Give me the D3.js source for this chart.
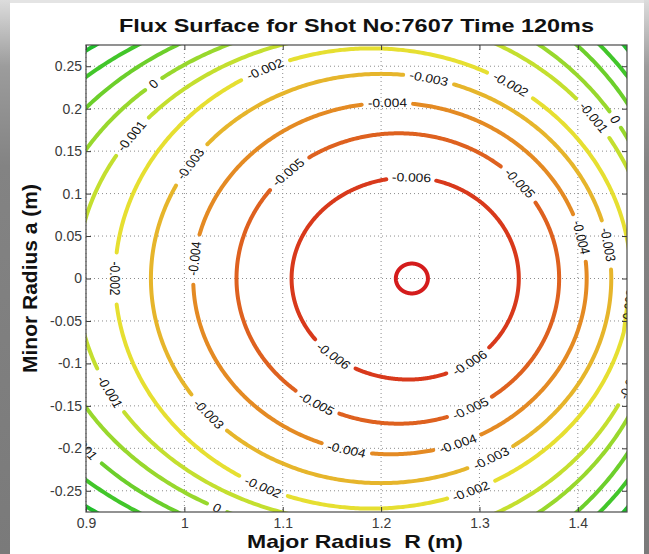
<!DOCTYPE html>
<html>
<head>
<meta charset="utf-8">
<script src="https://cdn.jsdelivr.net/npm/d3@7"></script>
<style>
body { margin: 0; background: #fff; }
svg { display: block; font-family: "Liberation Sans", Arial, sans-serif; }
</style>
</head>
<body>
<div id="graf"></div>
<script>
// Niveles de flujo y forma de cada superficie
const niveles = [-0.007, -0.006, -0.005, -0.004, -0.003, -0.002, -0.001, 0, 0.001, 0.002, 0.003]
const centroR = [1.2313, 1.228, 1.218, 1.21, 1.2, 1.19, 1.19, 1.19, 1.19, 1.19, 1.19]
const radioIzq = [0.0163, 0.119, 0.165, 0.201, 0.234, 0.2605, 0.2995, 0.334, 0.3686, 0.406, 0.443]
const altoIzq = [0.0176, 0.119, 0.171, 0.207, 0.241, 0.271, 0.289, 0.306, 0.3256, 0.339, 0.355]
const radioDer = [0.0163, 0.112, 0.163, 0.199, 0.234, 0.264, 0.287, 0.2993, 0.3145, 0.3306, 0.346]
const altoDer = [0.0176, 0.119, 0.171, 0.207, 0.241, 0.271, 0.308, 0.335, 0.368, 0.3866, 0.41]
const colores = ["#d41c1c", "#d8391b", "#de611f", "#e48a23", "#e6b52b", "#e6df31", "#c4df2f", "#98d82d", "#6ccf2b", "#42c62a", "#20bd2a"]

// Etiquetas de los contornos (nivel y posicion aproximada)
const etiquetaNivel = [0, -0.001, -0.002, -0.003, -0.004, -0.006, -0.005, -0.003, -0.004, -0.002, -0.002, -0.001, 0, -0.005, -0.004, -0.003, -0.006, -0.006, -0.005, -0.005, -0.004, -0.004, -0.003, -0.002, -0.002, -0.003, -0.001, 0.001, 0, -0.002, -0.001]
const etiquetaR = [0.972, 0.952, 1.085, 1.248, 1.206, 1.231, 1.107, 1.012, 1.012, 0.927, 1.334, 1.414, 1.438, 1.339, 1.397, 1.424, 1.151, 1.290, 1.136, 1.293, 1.165, 1.280, 1.314, 1.293, 1.084, 1.028, 0.926, 0.898, 1.032, 1.46, 1.46]
const etiquetaA = [0.224, 0.161, 0.236, 0.236, 0.207, 0.116, 0.124, 0.129, 0.024, 0, 0.235, 0.187, 0.187, 0.110, 0.047, 0.039, -0.092, -0.099, -0.145, -0.158, -0.202, -0.202, -0.216, -0.258, -0.237, -0.155, -0.131, -0.199, -0.270, -0.035, -0.128]

const xTicks = [0.9, 1, 1.1, 1.2, 1.3, 1.4]
const yTicks = [-0.25, -0.2, -0.15, -0.1, -0.05, 0, 0.05, 0.1, 0.15, 0.2, 0.25]

// Dimensiones
const anchoTotal = 649
const altoTotal = 554
const margins = { top: 45, right: 22, bottom: 42, left: 86 }
const ancho = anchoTotal - margins.left - margins.right
const alto = altoTotal - margins.top - margins.bottom
const estirar = 1.15

const svg = d3.select("#graf").append("svg")
    .attr("width", anchoTotal)
    .attr("height", altoTotal)

// marco gris de la imagen
const defs = svg.append("defs")
const grad = defs.append("linearGradient").attr("id", "marco").attr("x1", 0).attr("y1", 0).attr("x2", 0).attr("y2", 1)
grad.append("stop").attr("offset", "0%").attr("stop-color", "#dcdcdc")
grad.append("stop").attr("offset", "12%").attr("stop-color", "#9c9c9c")
grad.append("stop").attr("offset", "30%").attr("stop-color", "#838383")
grad.append("stop").attr("offset", "100%").attr("stop-color", "#7a7a7a")
defs.append("clipPath").attr("id", "clip")
    .append("rect").attr("width", ancho).attr("height", alto)

svg.append("rect").attr("x", 0).attr("y", 0).attr("width", anchoTotal).attr("height", 3).attr("fill", "#e4e4e4")
svg.append("rect").attr("x", 0).attr("y", 0).attr("width", 10).attr("height", altoTotal).attr("fill", "url(#marco)")
svg.append("rect").attr("x", 644).attr("y", 0).attr("width", 5).attr("height", altoTotal).attr("fill", "url(#marco)")

const g = svg.append("g")
    .attr("transform", `translate(${margins.left}, ${margins.top})`)

// Escaladores
const x = d3.scaleLinear().domain([0.9, 1.45]).range([0, ancho])
const y = d3.scaleLinear().domain([-0.275, 0.275]).range([alto, 0])

// Rejilla punteada
g.append("g").selectAll("line").data(xTicks).enter().append("line")
    .attr("x1", d => x(d)).attr("x2", d => x(d))
    .attr("y1", 0).attr("y2", alto)
    .attr("stroke", "#8c8c8c").attr("stroke-dasharray", "1,3")
g.append("g").selectAll("line").data(yTicks).enter().append("line")
    .attr("y1", d => y(d)).attr("y2", d => y(d))
    .attr("x1", 0).attr("x2", ancho)
    .attr("stroke", "#8c8c8c").attr("stroke-dasharray", "1,3")

const gLineas = g.append("g").attr("clip-path", "url(#clip)")
const gEtiquetas = g.append("g").attr("clip-path", "url(#clip)")
    .attr("font-size", 12).attr("fill", "#111")

// Puntos de cada contorno
const N = 720
const contornos = niveles.map((nivel, i) => {
    const puntos = d3.range(N).map(k => {
        const t = 2 * Math.PI * k / N
        const c = Math.cos(t)
        const s = Math.sin(t)
        const der = c >= 0
        const rr = der ? radioDer[i] : radioIzq[i]
        const ry = der ? altoDer[i] : altoIzq[i]
        return [x(centroR[i] + rr * c), y(ry * s)]
    })
    return { nivel, color: colores[i], puntos, keep: puntos.map(() => true) }
})

// Etiquetas: se colocan sobre el contorno mas cercano y se abre un hueco
etiquetaNivel.forEach((nivel, j) => {
    const cont = contornos.find(c => c.nivel === nivel)
    const px = x(etiquetaR[j])
    const py = y(etiquetaA[j])
    const k = d3.minIndex(cont.puntos, p => (p[0] - px) ** 2 + (p[1] - py) ** 2)
    const p = cont.puntos[k]
    const p0 = cont.puntos[(k - 3 + N) % N]
    const p1 = cont.puntos[(k + 3) % N]
    let ang = Math.atan2(p1[1] - p0[1], (p1[0] - p0[0]) / estirar) * 180 / Math.PI
    if (ang > 90) ang -= 180
    if (ang <= -90) ang += 180
    const texto = gEtiquetas.append("text")
        .attr("transform", `translate(${p[0]},${p[1]}) scale(${estirar},1) rotate(${ang})`)
        .attr("text-anchor", "middle")
        .attr("dy", "0.35em")
        .text(String(nivel))
    const medio = texto.node().getComputedTextLength() * estirar / 2 + 5
    cont.puntos.forEach((q, m) => {
        if (Math.hypot(q[0] - p[0], q[1] - p[1]) < medio) cont.keep[m] = false
    })
})

// Dibujo de los contornos por tramos
const linea = d3.line()
contornos.forEach(cont => {
    const tramos = []
    let actual = []
    cont.puntos.forEach((p, k) => {
        if (cont.keep[k]) actual.push(p)
        else {
            if (actual.length > 1) tramos.push(actual)
            actual = []
        }
    })
    if (actual.length > 1) tramos.push(actual)
    if (cont.keep.every(d => d)) {
        tramos[0] = cont.puntos.concat([cont.puntos[0]])
    } else if (cont.keep[0] && cont.keep[N - 1] && tramos.length > 1) {
        const ult = tramos.pop()
        tramos[0] = ult.concat(tramos[0])
    }
    gLineas.selectAll(null).data(tramos).enter().append("path")
        .attr("d", d => linea(d))
        .attr("fill", "none")
        .attr("stroke", cont.color)
        .attr("stroke-width", 4)
        .attr("stroke-linecap", "round")
        .attr("stroke-linejoin", "round")
})

// Ejes (marcas hacia adentro)
const estiloEje = a => {
    a.select(".domain").remove()
    a.attr("font-size", 14).attr("font-family", "'Liberation Sans', Arial, sans-serif").attr("color", "#3a3a3a")
}
g.append("g").attr("transform", `translate(0,${alto})`)
    .call(d3.axisBottom(x).tickValues(xTicks).tickSize(-5).tickPadding(6).tickFormat(d => String(d)))
    .call(estiloEje)
g.append("g")
    .call(d3.axisLeft(y).tickValues(yTicks).tickSize(-5).tickPadding(4).tickFormat(d => String(d)))
    .call(estiloEje)
g.append("g")
    .call(d3.axisTop(x).tickValues(xTicks).tickSize(-5).tickFormat(() => ""))
    .call(estiloEje)
g.append("g").attr("transform", `translate(${ancho},0)`)
    .call(d3.axisRight(y).tickValues(yTicks).tickSize(-5).tickFormat(() => ""))
    .call(estiloEje)

g.append("rect")
    .attr("width", ancho).attr("height", alto)
    .attr("fill", "none").attr("stroke", "#4a4a4a").attr("stroke-width", 1.2)

// Titulo y nombres de ejes
svg.append("text")
    .attr("x", margins.left + ancho / 2).attr("y", 32)
    .attr("text-anchor", "middle")
    .attr("font-weight", "bold").attr("font-size", 19)
    .attr("textLength", 475).attr("lengthAdjust", "spacingAndGlyphs")
    .attr("fill", "#111")
    .text("Flux Surface for Shot No:7607 Time 120ms")

svg.append("text")
    .attr("x", 355).attr("y", 548)
    .attr("text-anchor", "middle")
    .attr("font-weight", "bold").attr("font-size", 19)
    .attr("textLength", 216).attr("lengthAdjust", "spacingAndGlyphs")
    .style("white-space", "pre")
    .attr("fill", "#111")
    .text("Major Radius  R (m)")

svg.append("text")
    .attr("transform", `translate(37, ${margins.top + alto / 2}) rotate(-90)`)
    .attr("text-anchor", "middle")
    .attr("font-weight", "bold").attr("font-size", 20)
    .attr("textLength", 189).attr("lengthAdjust", "spacingAndGlyphs")
    .attr("fill", "#111")
    .text("Minor Radius a (m)")
</script>
</body>
</html>
